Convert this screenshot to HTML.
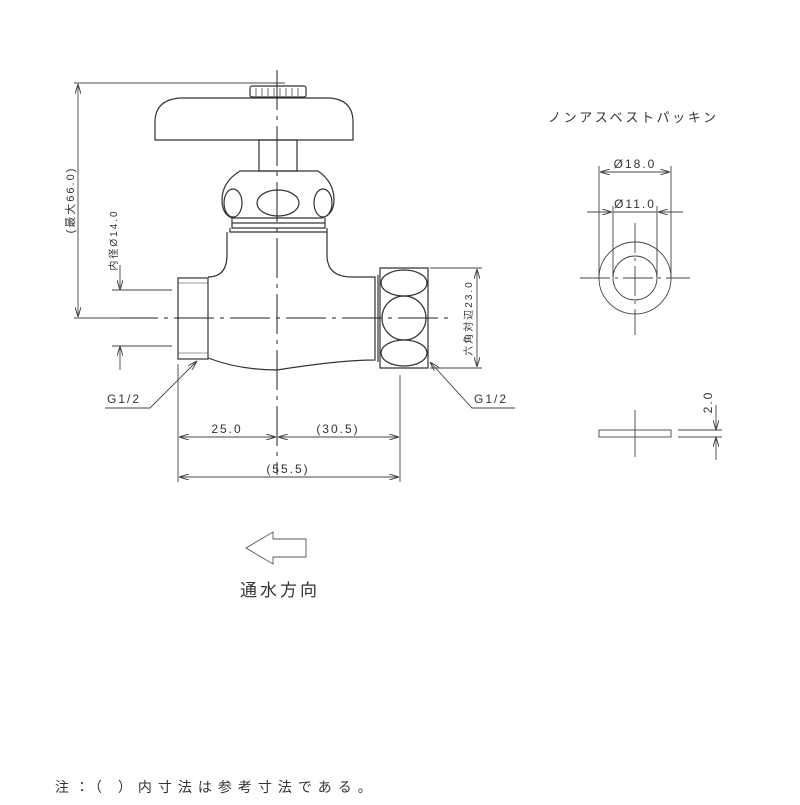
<!DOCTYPE html>
<html><head><meta charset="utf-8"><style>
body{margin:0;background:#fff}
svg text{font-family:"Liberation Sans","Noto Sans CJK JP",sans-serif;fill:#333}
</style></head><body>
<svg width="800" height="800" viewBox="0 0 800 800" xmlns="http://www.w3.org/2000/svg">
<defs>
<marker id="a" viewBox="0 0 10 6" refX="10" refY="3" markerWidth="10" markerHeight="6" orient="auto-start-reverse" markerUnits="userSpaceOnUse"><path d="M0,0 L10,3 L0,6" fill="none" stroke="#444" stroke-width="1"/></marker>
</defs>
<g fill="none" stroke="#333" stroke-width="1.2">
<rect x="250" y="86" width="56" height="11" rx="2"/>
<path d="M256,88v8M262,88v8M268,88v8M274,88v8M280,88v8M286,88v8M292,88v8M298,88v8" stroke-width="0.7"/>
<path d="M155,140 L155,122 Q155,100 180,98 L330,98 Q353,100 353,122 L353,140 Z"/>
<rect x="259" y="140" width="38" height="31"/>
<path d="M240,171 L318,171 Q334,182 334,200 Q334,214 322,218 L232,218 Q222,214 222,200 Q222,182 240,171 Z"/>
<ellipse cx="233" cy="203" rx="9" ry="14"/>
<ellipse cx="278" cy="203" rx="21" ry="13"/>
<ellipse cx="323" cy="203" rx="9" ry="14"/>
<path d="M232,218 L232,228 L325,228 L325,218 M230,228 L230,232 L327,232 L327,228 M232,223 H325"/>
<path d="M227,232 L227,255 Q227,277 208,277 M327,232 L327,255 Q327,277 352,277 L375,277 L375,360 Q340,360 277,370 Q240,370 208,358"/>
<rect x="178" y="278" width="30" height="81"/>
<path d="M178,283 L208,283 M178,353 L208,353" stroke-width="0.6"/>
<path d="M378,275 L378,362 M380,268 L428,268 L428,368 L380,368 Z"/>
<ellipse cx="404" cy="283" rx="23" ry="13"/>
<circle cx="404" cy="318" r="22"/>
<ellipse cx="404" cy="353" rx="23" ry="13"/>
</g>
<g stroke="#222" stroke-width="1">
<line x1="277" y1="70" x2="277" y2="475" stroke-dasharray="40,6,4,6"/>
<line x1="118" y1="318" x2="450" y2="318" stroke-dasharray="40,6,4,6"/>
</g>
<g stroke="#444" stroke-width="0.9" fill="none">
<line x1="74" y1="83" x2="285" y2="83"/>
<line x1="78" y1="84" x2="78" y2="317" marker-start="url(#a)" marker-end="url(#a)"/>
<line x1="74" y1="318" x2="120" y2="318"/>
<line x1="112" y1="290" x2="172" y2="290"/>
<line x1="112" y1="346" x2="172" y2="346"/>
<line x1="120" y1="265" x2="120" y2="290" marker-end="url(#a)"/>
<line x1="120" y1="370" x2="120" y2="346" marker-end="url(#a)"/>
<line x1="430" y1="268" x2="482" y2="268"/>
<line x1="430" y1="368" x2="482" y2="368"/>
<line x1="477" y1="269" x2="477" y2="367" marker-start="url(#a)" marker-end="url(#a)"/>
<line x1="178" y1="364" x2="178" y2="482"/>
<line x1="400" y1="375" x2="400" y2="482"/>
<line x1="179" y1="437" x2="276" y2="437" marker-start="url(#a)" marker-end="url(#a)"/>
<line x1="278" y1="437" x2="399" y2="437" marker-start="url(#a)" marker-end="url(#a)"/>
<line x1="179" y1="477" x2="399" y2="477" marker-start="url(#a)" marker-end="url(#a)"/>
<polyline points="105,408 150,408 197,361" marker-end="url(#a)"/>
<polyline points="515,408 472,408 430,362" marker-end="url(#a)"/>
<circle cx="635" cy="278" r="36"/>
<circle cx="635" cy="278" r="22"/>
<line x1="580" y1="278" x2="690" y2="278" stroke-dasharray="30,5,3,5"/>
<line x1="635" y1="223" x2="635" y2="335" stroke-dasharray="30,5,3,5"/>
<line x1="599" y1="166" x2="599" y2="278"/>
<line x1="671" y1="166" x2="671" y2="278"/>
<line x1="613" y1="206" x2="613" y2="278"/>
<line x1="657" y1="206" x2="657" y2="278"/>
<line x1="600" y1="172" x2="670" y2="172" marker-start="url(#a)" marker-end="url(#a)"/>
<line x1="587" y1="212" x2="612" y2="212" marker-end="url(#a)"/>
<line x1="683" y1="212" x2="658" y2="212" marker-end="url(#a)"/>
<line x1="613" y1="212" x2="657" y2="212"/>
<rect x="599" y="430" width="72" height="7"/>
<line x1="635" y1="410" x2="635" y2="457"/>
<line x1="678" y1="430" x2="722" y2="430"/>
<line x1="678" y1="437" x2="722" y2="437"/>
<line x1="716" y1="405" x2="716" y2="430" marker-end="url(#a)"/>
<line x1="716" y1="460" x2="716" y2="437" marker-end="url(#a)"/>
<polygon points="246,548 273,532 273,539 306,539 306,557 273,557 273,564" stroke="#555"/>
</g>
<g font-size="12" letter-spacing="2">
<text transform="translate(74,200) rotate(-90)" text-anchor="middle" font-size="11">(最大66.0)</text>
<text transform="translate(117,240) rotate(-90)" text-anchor="middle" font-size="10">内径Ø14.0</text>
<text transform="translate(472,318) rotate(-90)" text-anchor="middle" font-size="10">六角対辺23.0</text>
<text x="107" y="403">G1/2</text>
<text x="474" y="403">G1/2</text>
<text x="227" y="433" text-anchor="middle">25.0</text>
<text x="338" y="433" text-anchor="middle">(30.5)</text>
<text x="288" y="473" text-anchor="middle">(55.5)</text>
<text x="635" y="168" text-anchor="middle">Ø18.0</text>
<text x="635" y="208" text-anchor="middle">Ø11.0</text>
<text transform="translate(712,402) rotate(-90)" text-anchor="middle">2.0</text>
<text x="548" y="122" font-size="13" letter-spacing="2.6">ノンアスベストパッキン</text>
<text x="240" y="596" font-size="17" letter-spacing="3">通水方向</text>
<text x="55" y="792" font-size="14" letter-spacing="6">注：（ ）内寸法は参考寸法である。</text>
</g>
</svg>
</body></html>
